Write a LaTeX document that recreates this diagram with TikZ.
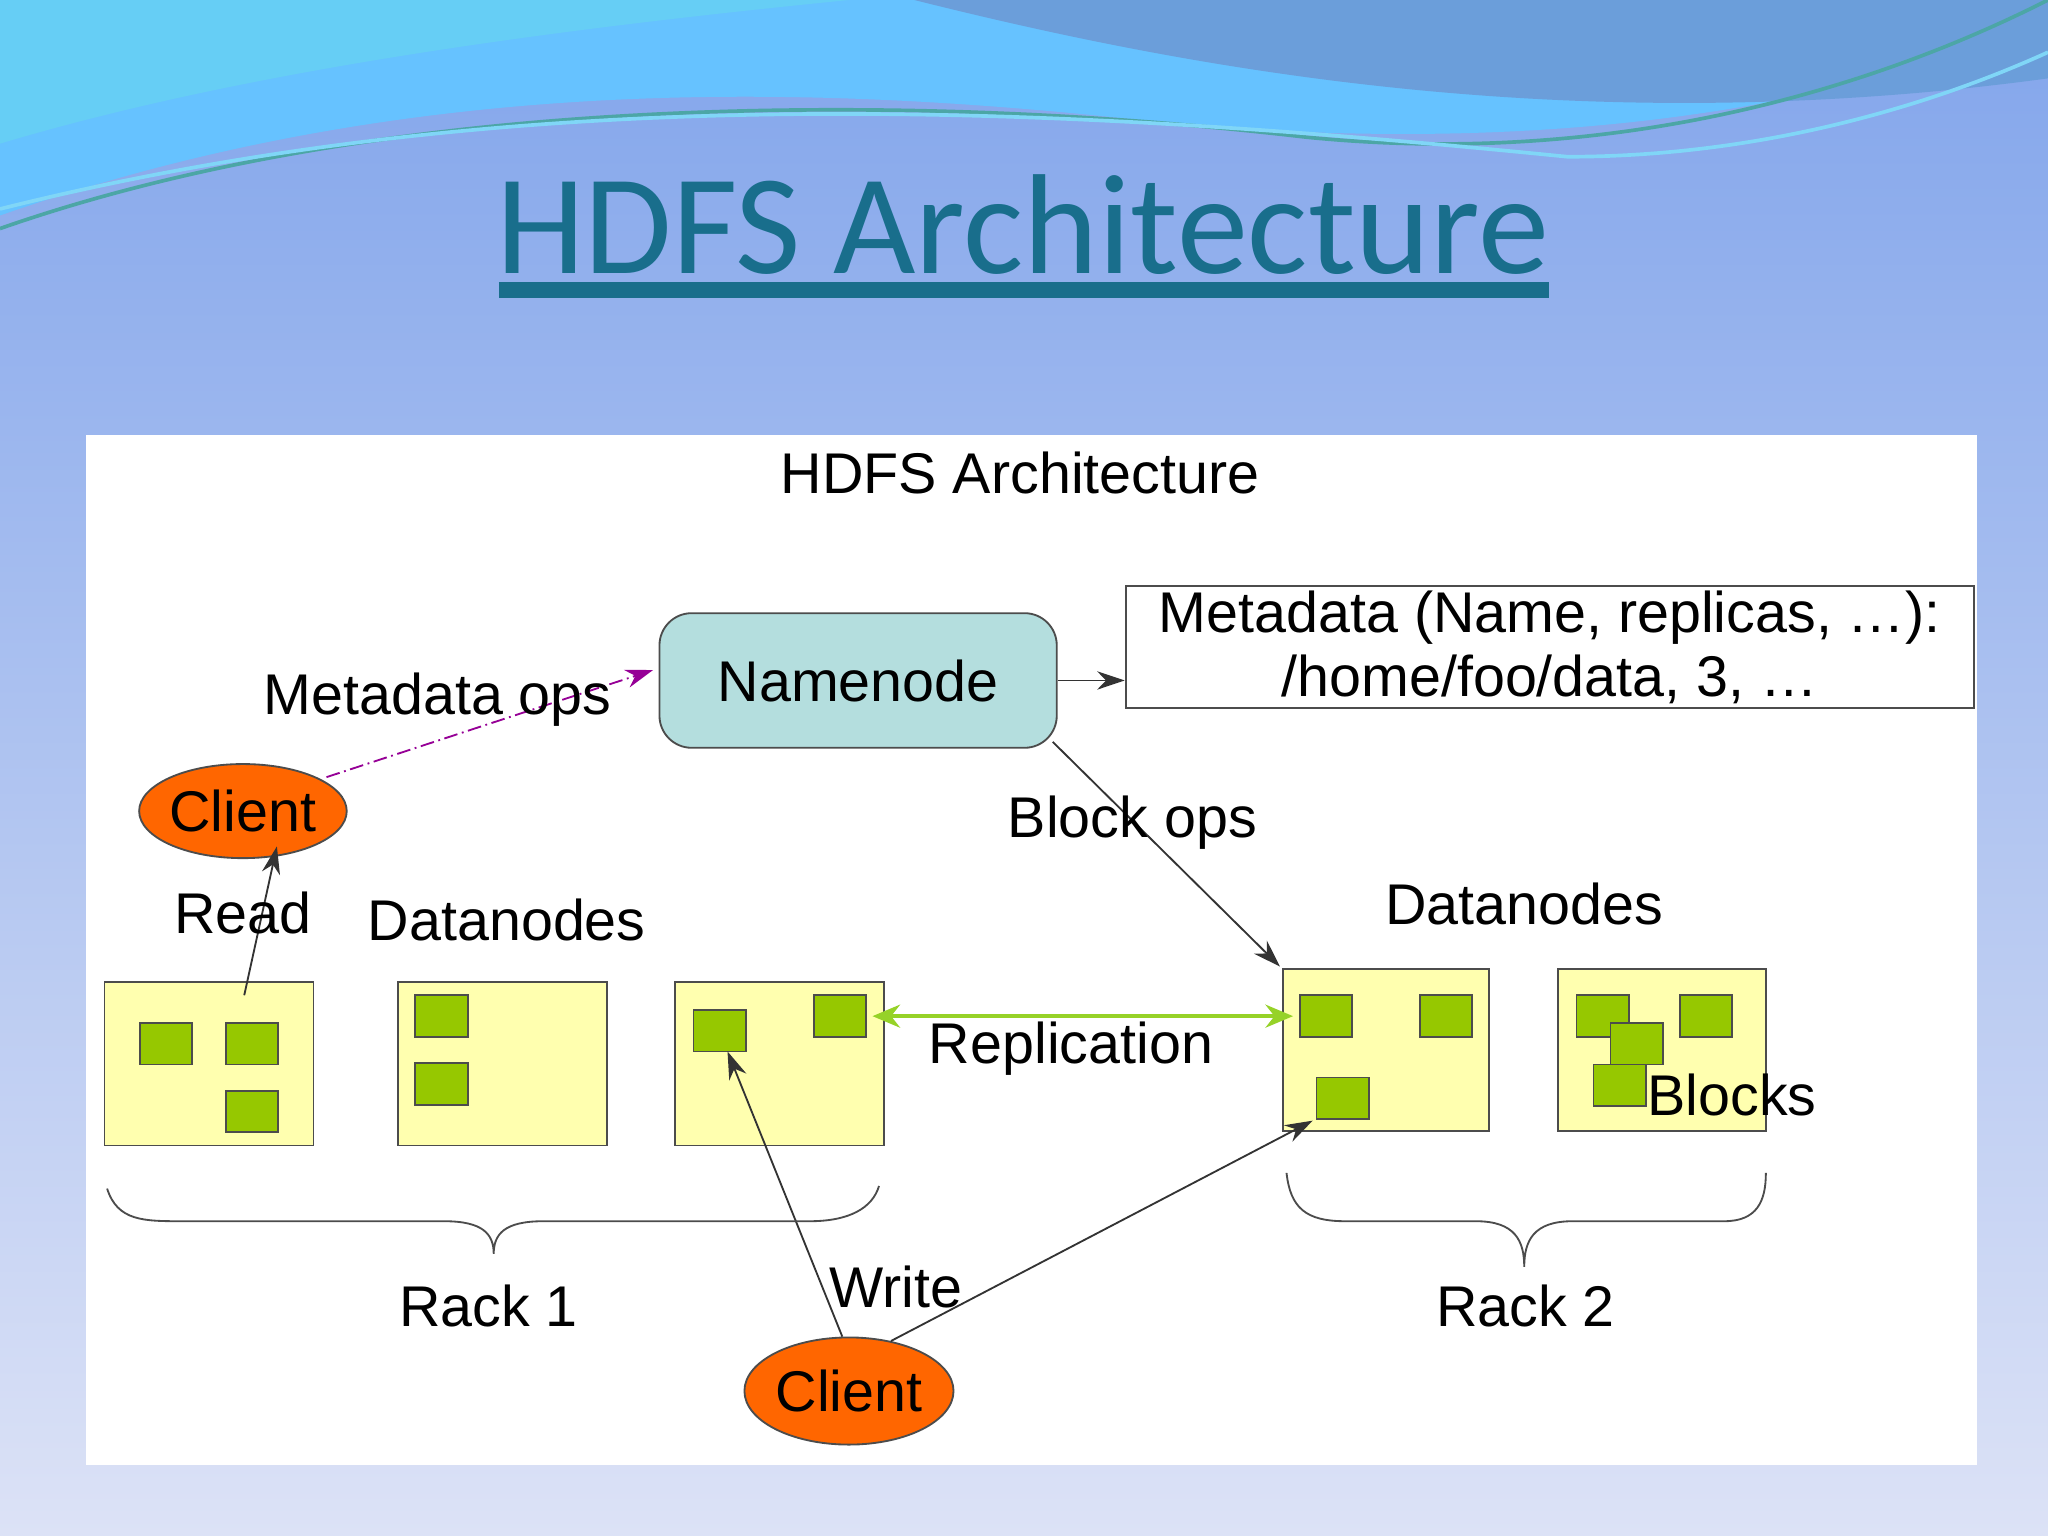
\documentclass[tikz,border=0pt]{standalone}
\usepackage{fontspec}
\setmainfont{Liberation Sans}
\newfontfamily\calibrifont{Carlito}
\usetikzlibrary{arrows.meta,shapes.geometric}
\definecolor{bgtop}{RGB}{130,165,235}
\definecolor{bgbot}{RGB}{220,226,246}
\definecolor{titlec}{RGB}{25,110,140}
\definecolor{nn}{RGB}{180,222,222}
\definecolor{dn}{RGB}{255,255,175}
\definecolor{blk}{RGB}{150,200,0}
\definecolor{cli}{RGB}{255,102,0}
\definecolor{repl}{RGB}{150,210,40}
\definecolor{purp}{RGB}{150,0,150}
\tikzset{
 lbl/.style={font=\fontsize{12.5}{14}\selectfont,inner sep=0},
 dnode/.style={draw=black!70,fill=dn},
 block/.style={draw=black!70,fill=blk},
 client/.style={ellipse,draw=black!70,fill=cli,inner sep=0pt,font=\fontsize{12.5}{14}\selectfont},
 arr/.style={-{Stealth[length=6pt,width=4pt]},black!80},
}
\begin{document}
\begin{tikzpicture}[x=0.01cm,y=-0.01cm]
\useasboundingbox (0,0) rectangle (1568,1176);
\shade[top color=bgtop,bottom color=bgbot] (0,0) rectangle (1568,1176);
% waves
\fill[blue!40!cyan!60!white] (0,0) -- (0,165) .. controls (300,60) and (600,60) .. (900,95) .. controls (1200,120) and (1400,80) .. (1568,20) -- (1568,0) -- cycle;
\fill[cyan!55!blue!60!white] (700,0) .. controls (900,50) and (1200,110) .. (1568,60) -- (1568,0) -- cycle;
\fill[cyan!60!white] (0,0) -- (0,110) .. controls (200,50) and (450,20) .. (650,0) -- cycle;
\draw[teal!70,thick] (0,175) .. controls (300,70) and (700,70) .. (1000,105) .. controls (1250,130) and (1450,60) .. (1568,0);
\draw[cyan!50,thick] (0,160) .. controls (400,60) and (800,80) .. (1200,120) .. controls (1350,120) and (1480,80) .. (1568,40);
\node[text=titlec,font=\calibrifont\fontsize{31}{36}\selectfont,inner sep=0] (title) at (783,172) {HDFS Architecture};
\draw[titlec,line width=3.5pt] (382,222) -- (1186,222);
% panel
\fill[white] (66,333) rectangle (1514,1122);
\node[lbl] (hdr) at (781,362) {HDFS Architecture};
\node[draw=black!70,fill=nn,rounded corners=7pt,minimum width=3.04cm,minimum height=1.03cm,font=\fontsize{12.5}{14}\selectfont] (nn) at (657,521) {Namenode};
\node[draw=black!70,minimum width=6.49cm,minimum height=0.93cm,font=\fontsize{12.5}{14}\selectfont,align=center,inner sep=1pt] (meta) at (1186.5,495.5) {Metadata (Name, replicas, \dots):\\/home/foo/data, 3, \dots};
\node[client,minimum width=1.58cm,minimum height=0.72cm] (c1) at (186,621) {Client};
\node[client,minimum width=1.6cm,minimum height=0.82cm] (c2) at (650,1065) {Client};
% datanodes
\draw[dnode] (80,752) rectangle (240,877);
\draw[dnode] (305,752) rectangle (465,877);
\draw[dnode] (517,752) rectangle (677,877);
\draw[dnode] (982,742) rectangle (1140,866);
\draw[dnode] (1193,742) rectangle (1352,866);
\foreach \x/\y in {107/783,173/783,173/835,318/762,318/814,531/773,623/762,995/762,1087/762,1008/825,1207/762,1233/783,1220/815,1286/762}
  \draw[block] (\x,\y) rectangle ++(40,32);
\coordinate (b3) at (557,805);
\coordinate (d4a) at (1005,858);
\coordinate (d4t) at (980,740);
\coordinate (nnbr) at (806,568);
\coordinate (r1) at (668,778);
\coordinate (r2) at (990,778);
\coordinate (rd) at (187,762);
\coordinate (c1t) at (212,648);
\coordinate (mo) at (250,595);
\coordinate (mo2) at (500,513);
% connectors
\draw[arr,purp,densely dashdotted] (mo) -- (mo2);
\draw[arr] (rd) -- (c1t);
\draw[arr] (nnbr) -- (d4t);
\draw[arr] (nn.east) -- (meta.west |- nn.east);
\draw[repl,thick,{Stealth[length=6pt,width=5pt]}-{Stealth[length=6pt,width=5pt]}] (r1) -- (r2);
\draw[arr] (c2.97) -- (b3);
\draw[arr] (c2.50) -- (d4a);
% braces
\draw[black!70] (82,910) .. controls (90,935) and (110,935) .. (140,935) -- (340,935) .. controls (370,935) and (378,945) .. (378,960) .. controls (378,945) and (386,935) .. (416,935) -- (620,935) .. controls (650,935) and (668,925) .. (673,908);
\draw[black!70] (985,898) .. controls (988,925) and (1000,935) .. (1030,935) -- (1130,935) .. controls (1160,935) and (1167,950) .. (1167,970) .. controls (1167,950) and (1174,935) .. (1204,935) -- (1320,935) .. controls (1345,935) and (1352,920) .. (1352,898);
% labels
\node[lbl] at (335,536) {Metadata ops};
\node[lbl] at (186,699) {Read};
\node[lbl] at (388,704) {Datanodes};
\node[lbl] at (867,630) {Block ops};
\node[lbl] at (1167,692) {Datanodes};
\node[lbl] at (820,803) {Replication};
\node[lbl] at (1326,838) {Blocks};
\node[lbl] at (374,1000) {Rack 1};
\node[lbl] at (686,985) {Write};
\node[lbl] at (1168,1000) {Rack 2};
\end{tikzpicture}
\end{document}
